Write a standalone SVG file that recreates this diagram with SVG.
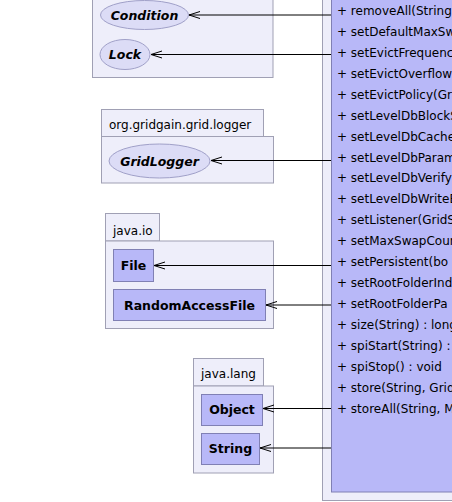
<svg xmlns="http://www.w3.org/2000/svg" width="452" height="502" viewBox="0 0 452 502">
<style>
.pkg{fill:#eeeefa;stroke:#a0a0b4;stroke-width:1}
.cls{fill:#b8b8f8;stroke:#8080b4;stroke-width:1}
.itf{fill:#dcdcf6;stroke:#a0a0c8;stroke-width:1}
.lbl{font-family:"DejaVu Sans",sans-serif;font-size:12px;fill:#000}
.bold{font-family:"DejaVu Sans",sans-serif;font-size:12.5px;font-weight:bold;fill:#000;text-anchor:middle}
.it{font-style:italic}
.mem{font-family:"DejaVu Sans",sans-serif;font-size:12px;fill:#000}
.edge{stroke:#000;stroke-width:1;fill:none}
</style>
<rect x="0" y="0" width="452" height="502" fill="#fff"/>
<g id="pkg-concurrent">
<rect class="pkg" x="92.5" y="-10" width="180.5" height="87.5"/>
</g>
<g id="Condition">
<ellipse class="itf" cx="144.5" cy="15" rx="44" ry="14.5"/>
<text class="bold it" x="144.5" y="19.5">Condition</text>
</g>
<g id="Lock">
<ellipse class="itf" cx="125" cy="54.5" rx="25" ry="15"/>
<text class="bold it" x="125" y="59">Lock</text>
</g>
<g id="pkg-logger">
<rect class="pkg" x="101.5" y="109.5" width="162" height="27"/>
<rect class="pkg" x="101.5" y="136.5" width="172" height="46.5"/>
<text class="lbl" x="109" y="128.5">org.gridgain.grid.logger</text>
</g>
<g id="GridLogger">
<ellipse class="itf" cx="159.5" cy="161" rx="50.5" ry="17"/>
<text class="bold it" x="159.5" y="165.5">GridLogger</text>
</g>
<g id="pkg-io">
<rect class="pkg" x="105.5" y="213.5" width="54" height="27.5"/>
<rect class="pkg" x="105.5" y="241" width="168" height="87.5"/>
<text class="lbl" x="113" y="234.5">java.io</text>
</g>
<g id="File">
<rect class="cls" x="113.5" y="249.5" width="40" height="32"/>
<text class="bold" x="133.5" y="269.5">File</text>
</g>
<g id="RandomAccessFile">
<rect class="cls" x="113.5" y="289.5" width="152" height="31"/>
<text class="bold" x="189.5" y="309.5">RandomAccessFile</text>
</g>
<g id="pkg-lang">
<rect class="pkg" x="193.5" y="358.5" width="70" height="27.5"/>
<rect class="pkg" x="193.5" y="386" width="80" height="87"/>
<text class="lbl" x="201" y="378">java.lang</text>
</g>
<g id="Object">
<rect class="cls" x="201.5" y="394.5" width="61" height="31"/>
<text class="bold" x="232" y="414">Object</text>
</g>
<g id="String">
<rect class="cls" x="201.5" y="433.5" width="58" height="31"/>
<text class="bold" x="230.5" y="453">String</text>
</g>
<g id="GridSwapSpaceSpi">
<rect class="pkg" x="322.5" y="-10" width="140" height="510.5"/>
<rect class="cls" x="331.5" y="-10" width="130" height="502"/>
<text class="mem" x="337" y="15">+ removeAll(String</text>
<text class="mem" x="337" y="35.9">+ setDefaultMaxSw</text>
<text class="mem" x="337" y="56.9">+ setEvictFrequenc</text>
<text class="mem" x="337" y="77.8">+ setEvictOverflow</text>
<text class="mem" x="337" y="98.7">+ setEvictPolicy(Gr</text>
<text class="mem" x="337" y="119.7">+ setLevelDbBlockS</text>
<text class="mem" x="337" y="140.6">+ setLevelDbCache</text>
<text class="mem" x="337" y="161.5">+ setLevelDbParam</text>
<text class="mem" x="337" y="182.4">+ setLevelDbVerify</text>
<text class="mem" x="337" y="203.4">+ setLevelDbWriteB</text>
<text class="mem" x="337" y="224.3">+ setListener(GridS</text>
<text class="mem" x="337" y="245.2">+ setMaxSwapCoun</text>
<text class="mem" x="337" y="266.2">+ setPersistent(bo</text>
<text class="mem" x="337" y="287.1">+ setRootFolderInd</text>
<text class="mem" x="337" y="308">+ setRootFolderPa</text>
<text class="mem" x="337" y="329">+ size(String) : long</text>
<text class="mem" x="337" y="349.9">+ spiStart(String) :</text>
<text class="mem" x="337" y="370.8">+ spiStop() : void</text>
<text class="mem" x="337" y="391.7">+ store(String, Grid</text>
<text class="mem" x="337" y="412.7">+ storeAll(String, M</text>
</g>
<g id="connectors">
<path class="edge" d="M331,15 H189 M200,11.5 L189,15 L200,18.5"/>
<path class="edge" d="M331,54.5 H151 M162,51 L151,54.5 L162,58"/>
<path class="edge" d="M331,160.5 H211 M222,157 L211,160.5 L222,164"/>
<path class="edge" d="M331,265.5 H154 M165,262 L154,265.5 L165,269"/>
<path class="edge" d="M331,305 H266 M277,301.5 L266,305 L277,308.5"/>
<path class="edge" d="M331,408.5 H263 M274,405 L263,408.5 L274,412"/>
<path class="edge" d="M331,448 H260 M271,444.5 L260,448 L271,451.5"/>
</g>
</svg>
